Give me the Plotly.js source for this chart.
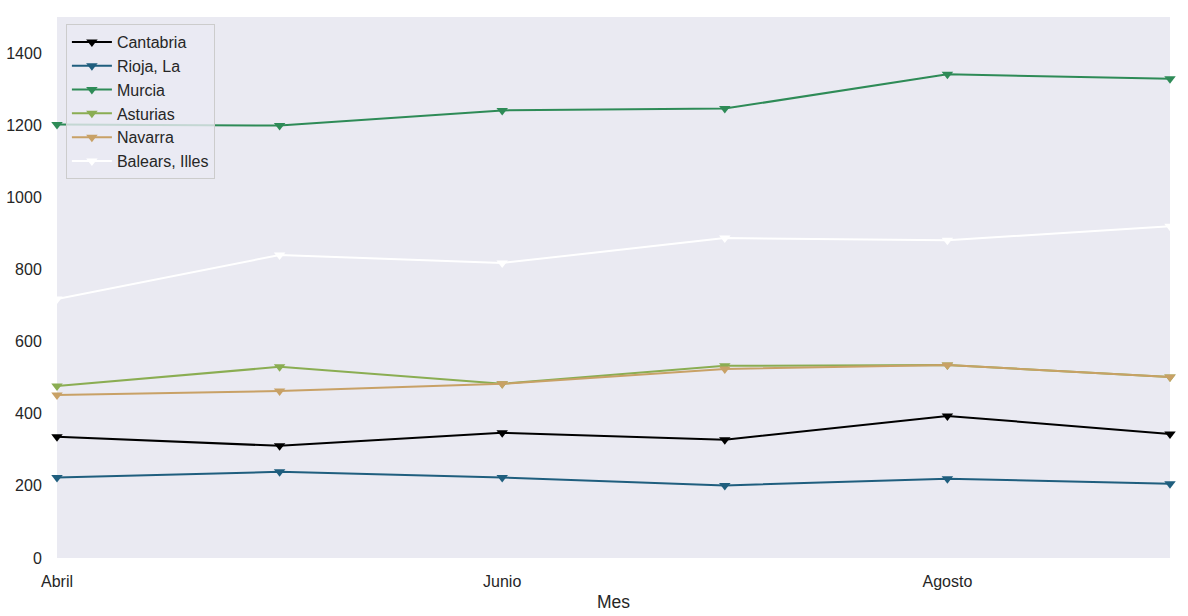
<!DOCTYPE html>
<html><head><meta charset="utf-8">
<script src="https://cdn.plot.ly/plotly-3.0.1.min.js"></script>
<style>html,body{margin:0;padding:0;background:#fff}#c{width:1188px;height:616px}</style>
</head><body><div id="c"></div>
<script>
const months = ["Abril","Mayo","Junio","Julio","Agosto","Septiembre"];
const tickLabels = ["Abril","Junio","Agosto"];
const cantabria = [336, 311, 347, 328, 394, 344];
const rioja = [223, 239, 223, 201, 220, 206];
const murcia = [1202, 1199, 1241, 1246, 1341, 1329];
const asturias = [477, 530, 483, 533, 535, 502];
const navarra = [452, 463, 483, 524, 535, 502];
const balears = [718, 840, 818, 887, 881, 920];
const seriesNames = ["Cantabria","Rioja, La","Murcia","Asturias","Navarra","Balears, Illes"];
const seriesValues = [cantabria, rioja, murcia, asturias, navarra, balears];
const colors = ["#000000","#1f5e7e","#2e8b57","#8aad52","#c8a166","#ffffff"];

const traces = seriesNames.map((n,i)=>({
  type:'scatter', mode:'lines+markers', name:n,
  x: months, y: seriesValues[i],
  line:{color:colors[i], width:2},
  marker:{symbol:'triangle-down', size:10, color:colors[i]},
  cliponaxis:false
}));

const layout = {
  width:1188, height:616,
  margin:{l:57, r:18, t:17, b:58},
  paper_bgcolor:'#ffffff', plot_bgcolor:'#eaeaf2',
  font:{family:'"Liberation Sans", Arial, sans-serif', size:16, color:'#262626'},
  showlegend:true,
  legend:{x:0.008, y:0.987, xanchor:'left', yanchor:'top',
    bgcolor:'rgba(234,234,242,0.8)', bordercolor:'#cccccc', borderwidth:1,
    font:{size:16, color:'#262626'}, tracegroupgap:0, itemwidth:40},
  xaxis:{type:'category', categoryorder:'array', categoryarray:months,
    range:[0,5], tickmode:'array', tickvals:tickLabels, ticktext:tickLabels,
    showgrid:false, zeroline:false, showline:false,
    ticks:'outside', ticklen:9, tickcolor:'rgba(0,0,0,0)',
    tickfont:{size:16}, title:{text:'Mes', font:{size:17.5}, standoff:6}},
  yaxis:{range:[0,1500], tickvals:[0,200,400,600,800,1000,1200,1400],
    showgrid:false, zeroline:false, showline:false,
    ticks:'outside', ticklen:11, tickcolor:'rgba(0,0,0,0)',
    tickfont:{size:16}}
};
Plotly.newPlot('c', traces, layout, {displayModeBar:false, staticPlot:true});
</script></body></html>
